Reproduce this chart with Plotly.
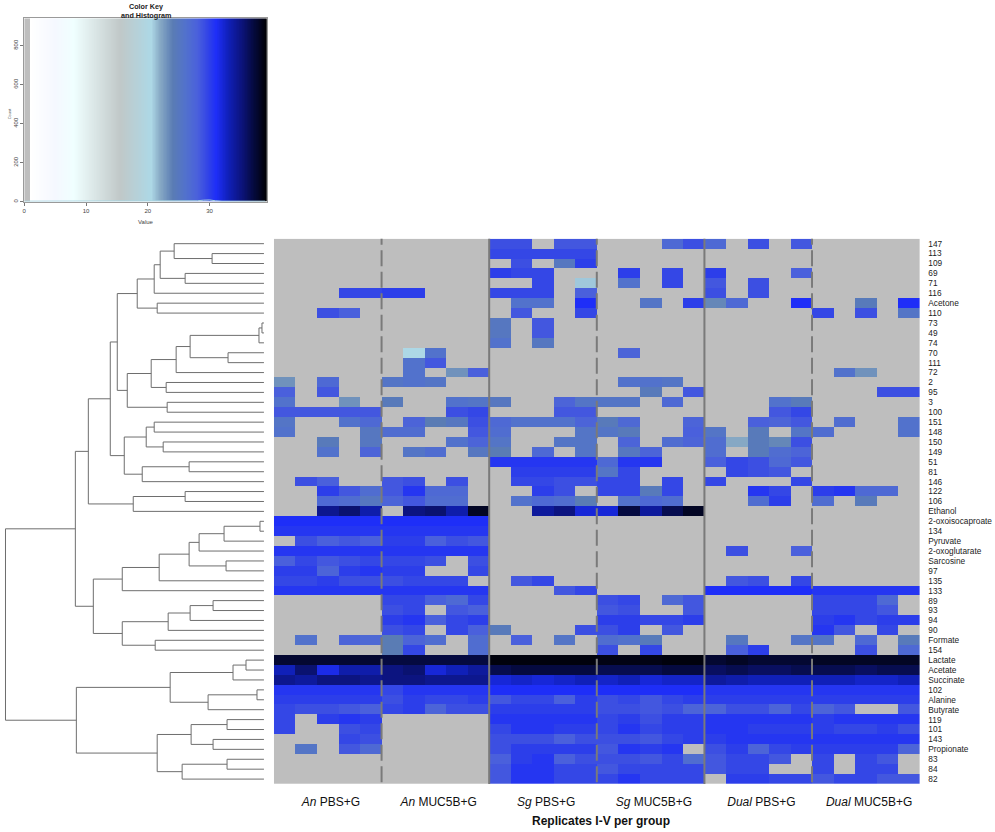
import numpy as np
import plotly.graph_objects as go

W, H = 995, 832

row_labels = ["147","113","109","69","71","116","Acetone","110","73","49","74","70","111","72","2","95","3","100",
              "151","148","150","149","51","81","146","122","106","Ethanol","2-oxoisocaproate","134","Pyruvate",
              "2-oxoglutarate","Sarcosine","97","135","133","89","93","94","90","Formate","154","Lactate","Acetate",
              "Succinate","102","Alanine","Butyrate","119","101","143","Propionate","83","84","82"]

group_labels = ["<i>An</i> PBS+G", "<i>An</i> MUC5B+G", "<i>Sg</i> PBS+G", "<i>Sg</i> MUC5B+G",
                "<i>Dual</i> PBS+G", "<i>Dual</i> MUC5B+G"]
replicates_per_group = 5
boundary_is_solid = [False, True, False, True, False]

# log2-like intensity per metabolite (rows) and replicate (columns); 0 = not detected
values = [
 [0,0,0,0,0, 0,0,0,0,0, 29,29,0,28.5,28.5, 0,0,0,27,29, 27,0,29,0,28.5, 0,0,0,0,0],
 [0,0,0,0,0, 0,0,0,0,0, 29.5,29.5,29.5,29.5,29.5, 0,0,0,0,0, 0,0,0,0,0, 0,0,0,0,0],
 [0,0,0,0,0, 0,0,0,0,0, 0,29,0,25,30, 0,0,0,0,0, 0,0,0,0,0, 0,0,0,0,0],
 [0,0,0,0,0, 0,0,0,0,0, 30,29.5,29.5,0,0, 0,30,0,29.5,0, 30,0,0,0,28, 0,0,0,0,0],
 [0,0,0,0,0, 0,0,0,0,0, 0,0,29.5,0,21, 0,26,0,29.5,0, 28.5,0,29,0,0, 0,0,0,0,0],
 [0,0,0,29.5,29.5, 30,30,0,0,0, 29.5,29.5,29.5,0,28, 0,0,0,0,0, 29,0,29,0,0, 0,0,0,0,0],
 [0,0,0,0,0, 0,0,0,0,0, 0,26,26,0,31, 0,0,25.5,0,30, 23.5,27,0,0,31, 0,0,24.5,0,31],
 [0,0,29,28,0, 0,0,0,0,0, 0,28.5,0,0,29.5, 0,0,0,0,0, 0,0,0,0,0, 29.5,0,29,0,25.5],
 [0,0,0,0,0, 0,0,0,0,0, 25,0,28.5,0,0, 0,0,0,0,0, 0,0,0,0,0, 0,0,0,0,0],
 [0,0,0,0,0, 0,0,0,0,0, 25,0,28.5,0,0, 0,0,0,0,0, 0,0,0,0,0, 0,0,0,0,0],
 [0,0,0,0,0, 0,0,0,0,0, 26,0,25,0,0, 0,0,0,0,0, 0,0,0,0,0, 0,0,0,0,0],
 [0,0,0,0,0, 0,20.5,26,0,0, 0,0,0,0,0, 0,27.5,0,0,0, 0,0,0,0,0, 0,0,0,0,0],
 [0,0,0,0,0, 0,26,28.5,0,0, 0,0,0,0,0, 0,0,0,0,0, 0,0,0,0,0, 0,0,0,0,0],
 [0,0,0,0,0, 0,26,0,23,28, 0,0,0,0,0, 0,0,0,0,0, 0,0,0,0,0, 0,26,23,0,0],
 [23,0,27,0,0, 25.5,26,25.5,0,0, 0,0,0,0,0, 0,26,26,25.5,0, 0,0,0,0,0, 0,0,0,0,0],
 [28,0,28.5,0,0, 0,0,0,0,0, 0,0,0,0,0, 0,0,24.5,0,28.5, 0,0,0,0,0, 0,0,0,29,29],
 [26,0,0,23,0, 24.5,0,0,26,25.5, 25,0,0,27.5,25.5, 25.5,25.5,0,27,0, 0,0,0,26,24.5, 0,0,0,0,0],
 [28.5,28.5,28.5,28.5,28.5, 0,0,0,29,29.5, 0,0,0,28.5,28.5, 0,0,0,0,0, 0,0,0,28.5,29.5, 0,0,0,0,0],
 [25.5,0,0,26,27, 0,27.5,24,25,29, 27,26,26,26,27.5, 24.5,27,0,0,27.5, 0,0,28,27.5,28.5, 0,26.5,0,0,26],
 [26,0,0,0,25, 26.5,26.5,0,0,28.5, 26.5,0,0,0,25.5, 25.5,24.5,0,0,28, 25.5,0,24.5,0,25.5, 26.5,0,0,0,26],
 [0,0,24.5,0,25, 0,0,0,26,27.5, 25.5,0,0,25.5,25.5, 0,27.5,0,26.5,27.5, 26.5,22,24.5,23.5,29, 0,0,0,0,0],
 [0,0,26,0,27.5, 0,25.5,26.5,0,25, 24,0,27,0,25.5, 0,25,27.5,0,0, 26.5,0,24.5,26.5,27.5, 0,0,0,0,0],
 [0,0,0,0,0, 0,0,0,0,0, 30.5,30.5,30.5,30.5,30.5, 27,30.5,30.5,0,0, 28,29.5,29,27,28.5, 0,0,0,0,0],
 [0,0,0,0,0, 0,0,0,0,0, 0,30,30,30,30, 25.5,29.5,0,0,0, 0,29.5,29,28.5,0, 0,0,0,0,0],
 [0,29,28,0,0, 28.5,29,0,29,0, 0,29.5,29.5,29,29, 29.5,29.5,0,29.5,0, 29.5,0,0,0,29.5, 0,0,0,0,0],
 [0,0,30,28.5,26.5, 28.5,30.5,27,27,0, 0,0,30,29,0, 29.5,29.5,24.5,29.5,0, 0,0,30.5,29.5,0, 30,30.5,27,27,0],
 [0,0,27,26.5,25, 27.5,28.5,26.5,26.5,0, 0,26,27,26.5,24, 0,26,27,26.5,0, 0,0,26.5,30,0, 26.5,0,24.5,0,0],
 [0,0,34.5,35.5,33.5, 0,35,35.5,33.5,38, 0,0,34,35,32, 32,37,34,36.5,38, 0,0,0,0,0, 0,0,0,0,0],
 [31,31,31,31,31, 31,31,31,31,31, 0,0,0,0,0, 0,0,0,0,0, 0,0,0,0,0, 0,0,0,0,0],
 [30.5,30.5,30.5,30.5,30.5, 30.5,30.5,30.5,30.5,30.5, 0,0,0,0,0, 0,0,0,0,0, 0,0,0,0,0, 0,0,0,0,0],
 [0,29,28,28.5,28, 30,30,28,29,28.5, 0,0,0,0,0, 0,0,0,0,0, 0,0,0,0,0, 0,0,0,0,0],
 [30.5,30.5,30.5,30.5,30.5, 30.5,30.5,30.5,30.5,30.5, 0,0,0,0,0, 0,0,0,0,0, 0,29,0,0,28, 0,0,0,0,0],
 [28,29.5,28.5,29,29.5, 29.5,29.5,29,0,29, 0,0,0,0,0, 0,0,0,0,0, 0,0,0,0,0, 0,0,0,0,0],
 [30,30,27.5,30,30.5, 30,30,0,0,29.5, 0,0,0,0,0, 0,0,0,0,0, 0,0,0,0,0, 0,0,0,0,0],
 [29.5,29.5,30,29,29, 29,29.5,29.5,29.5,0, 0,28.5,29.5,0,0, 0,0,0,0,0, 0,28.5,29,0,29.5, 0,0,0,0,0],
 [30.5,30.5,30.5,30.5,30.5, 30.5,30.5,30.5,30.5,30.5, 0,0,0,28.5,29.5, 0,0,0,0,0, 31,31,31,31,31, 30.5,30.5,30.5,30.5,30.5],
 [0,0,0,0,0, 29.5,29.5,28,27,29.5, 0,0,0,0,0, 29,29.5,0,27,28.5, 0,0,0,0,0, 29.5,29.5,29.5,27,0],
 [0,0,0,0,0, 29,29.5,0,28.5,28, 0,0,0,0,0, 28.5,29,0,0,28.5, 0,0,0,0,0, 29.5,29.5,29.5,28.5,0],
 [0,0,0,0,0, 30,30.5,28,29.5,30, 0,0,0,0,0, 30,30,29.5,29.5,30, 0,0,0,0,0, 30,30.5,29.5,30,30],
 [0,0,0,0,0, 29,29.5,0,29.5,28, 24.5,0,0,0,29, 29,30,0,28.5,0, 0,0,0,0,0, 30.5,28.5,0,29.5,0],
 [0,26,0,27.5,27, 24,27.5,26.5,0,26.5, 0,28,0,25.5,0, 26.5,26,24.5,0,0, 0,25,0,0,25.5, 25.5,0,27,0,24.5],
 [0,0,0,0,0, 24,29.5,0,0,26.5, 0,0,0,0,0, 29,0,29.5,0,0, 0,28,30,0,0, 0,0,29,0,27],
 [37.5,37.5,37.5,37.5,37.5, 37,37,37,37,37, 38.8,38.8,38.8,38.8,38.8, 38.5,38.5,38.5,38.8,38.8, 37.5,38,37.5,37.5,37.5, 38,38,38,38,38],
 [33,35.5,31.5,33.5,33.5, 35,35.5,32,33,34, 36.5,37,37,37,37, 36.5,36.5,36.5,37,37, 36,36.5,36,36,36.5, 36.5,36.5,36,36.5,36.5],
 [34.5,34,35,35,34.5, 35,35,34.5,34.5,34.5, 32,32.5,32,32.5,33, 32.5,33,32,32.5,32.5, 34,33.5,33,33,33, 33,33,32.5,32.5,33],
 [30.5,30.5,30.5,30.5,30.5, 29.5,30.5,30.5,30.5,30.5, 31,31,31,31,31, 31,31,31,31,31, 30.5,30.5,30.5,30.5,30.5, 30.5,30.5,30.5,30.5,30.5],
 [30,30,30,30,30, 29,30,29.5,29.5,30, 28.5,29.5,29.5,28,30, 29,29.5,28.5,29.5,30, 30,30,30,30,30, 30,30,30,30,30],
 [29.5,29,29,28.5,28, 29.5,30,27.5,29,29, 30,30,30,30,30, 29,29,28.5,29,27.5, 27.5,29,29,27.5,29.5, 27.5,28.5,0,0,28.5],
 [29.5,0,30,30.5,30, 0,0,0,0,0, 30.5,30.5,30.5,30.5,30.5, 29.5,30,29,30,30, 30.5,30.5,30.5,30.5,30.5, 30,30.5,30.5,30.5,30.5],
 [29.5,0,0,29,29.5, 0,0,0,0,0, 29.5,30.5,30.5,30,30, 29.5,30.5,29.5,30,30, 30.5,30.5,30,30,30, 30,29.5,29.5,30,29],
 [0,0,0,29.5,29, 0,0,0,0,0, 29,29,29,28,29, 29,29,28.5,29.5,30, 30,30.5,30.5,30.5,30.5, 30.5,30.5,30.5,30.5,30.5],
 [0,25.5,0,28.5,27, 0,0,0,0,0, 29,30,30,30,30, 28.5,30.5,30,30.5,0, 29,30,27.5,29.5,30, 30,30,30,30,27.5],
 [0,0,0,0,0, 0,0,0,0,0, 28,30,30.5,28,29, 29,29,28.5,29.5,26.5, 28.5,29.5,29.5,28.5,0, 29.5,0,29.5,28.5,0],
 [0,0,0,0,0, 0,0,0,0,0, 28.5,30.5,30.5,29.5,29.5, 28.5,29.5,29.5,29.5,29.5, 28.5,29.5,29.5,0,0, 29.5,0,29.5,29.5,0],
 [0,0,0,0,0, 0,0,0,0,0, 28.5,30.5,30.5,29.5,29.5, 29.5,30.5,29.5,29.5,29.5, 0,30,30,29.5,29.5, 28.5,29.5,29.5,28.5,28.5],
]

# dendrogram merges: (left, right, height); a string is a row label, an int an earlier merge
merges = [
 ("113","109",52),("147",0,90),("69","71",79),(1,2,104),(3,"116",110),("Acetone","110",107),(4,5,127),
 ("73","49",2),(7,"74",5),("70","111",36),(8,9,74),(10,"72",88),("2","95",98),(11,12,113),("3","100",97),
 (13,14,137),(6,15,147),("151","148",110),("150","149",101),(17,18,118),("51","81",75),(20,"146",122),
 (19,21,140),(16,22,154),("122","106",79),(24,"Ethanol",131),(23,25,176),("2-oxoisocaproate","134",4),
 (27,"Pyruvate",40),(28,"2-oxoglutarate",65),("Sarcosine","97",38),(29,30,75),(31,"135",105),(32,"133",142),
 ("89","93",51),(34,"94",74),(35,"90",96),("Formate","154",109),(36,37,142),(33,38,171),(26,39,189),
 ("Lactate","Acetate",18),(41,"Succinate",31),("102","Alanine",7),(43,"Butyrate",56),(42,44,94),
 ("119","101",37),("143","Propionate",51),(46,47,73),("83","84",37),(49,"82",82),(48,50,107),(45,51,188),
 (40,52,259),
]

# colour key: value -> colour stops
key_values = [0, 1, 1, 5, 8, 15.5, 20.5, 22, 24, 26, 28, 29, 30, 31, 33, 35, 37, 39.25]
key_colors = ["#BEBEBE", "#BEBEBE", "#FFFFFF", "#F5F8FF", "#F0FFFF", "#C0C8C8", "#ADD8E6", "#86A8C4", "#5A7CB4",
              "#5272CC", "#4A60DC", "#3C4FE2", "#2C3EEA", "#1E2EF8", "#1020B8", "#0C1480", "#050A40", "#000000"]
key_max = 39.25
key_top = 940
# histogram outline along the foot of the key (count per value bin)
hist_values = [0, 2, 5, 10, 15, 20, 24, 27, 28, 29, 30, 31, 32, 39]
hist_counts = [3, 3, 3, 3, 3, 3, 3, 3, 5, 8, 9, 5, 3, 3]

colorscale = [[v / key_max, c] for v, c in zip(key_values, key_colors)]
n_rows = len(row_labels)
n_cols = len(values[0])

fig = go.Figure()

# main heatmap
fig.add_trace(go.Heatmap(z=values, x=list(range(n_cols)), y=list(range(n_rows)), coloraxis="coloraxis",
                         xaxis="x", yaxis="y", hoverinfo="skip", xgap=0, ygap=0))

# group separators
for i, solid in enumerate(boundary_is_solid):
    b = (i + 1) * replicates_per_group - 0.5
    fig.add_trace(go.Scatter(x=[b, b], y=[-1.5, n_rows], mode="lines", xaxis="x", yaxis="y", hoverinfo="skip",
                             showlegend=False,
                             line=dict(color="#7A7A7A", width=2, dash="solid" if solid else "16px,5.5px")))

# dendrogram, laid out from the merge table
pos = {name: float(i) for i, name in enumerate(row_labels)}
hgt = {name: 0.0 for name in row_labels}
dx, dy = [], []
for k, (a, b, h) in enumerate(merges):
    ya, yb, ha, hb = pos[a], pos[b], hgt[a], hgt[b]
    dx += [ha, h, h, hb, None]
    dy += [ya, ya, yb, yb, None]
    pos[k] = (ya + yb) / 2
    hgt[k] = h
fig.add_trace(go.Scatter(x=dx, y=dy, mode="lines", xaxis="x2", yaxis="y2", hoverinfo="skip", showlegend=False,
                         line=dict(color="#6E6E6E", width=1)))

# colour key
edges = np.linspace(0, key_max, 400)
mids = (edges[:-1] + edges[1:]) / 2
fig.add_trace(go.Heatmap(z=[mids.tolist()], x=edges.tolist(), y=[0, key_top], coloraxis="coloraxis",
                         xaxis="x3", yaxis="y3", hoverinfo="skip"))
fig.add_trace(go.Scatter(x=hist_values, y=hist_counts, mode="lines", xaxis="x3", yaxis="y3", hoverinfo="skip",
                         showlegend=False, line=dict(color="#A8D4E0", width=1)))

def xdom(a, b): return [a / W, b / W]
def ydom(top, bottom): return [1 - bottom / H, 1 - top / H]

group_centers = [(i + 0.5) * replicates_per_group - 0.5 + 0.15 for i in range(len(group_labels))]
small = dict(family="Liberation Sans", size=6, color="#444444")

fig.update_layout(
    width=W, height=H, margin=dict(l=0, r=0, t=0, b=0), paper_bgcolor="white", plot_bgcolor="white",
    showlegend=False, font=dict(family="Liberation Sans", color="#222222"),
    coloraxis=dict(colorscale=colorscale, cmin=0, cmax=key_max, showscale=False),
    xaxis=dict(domain=xdom(272.5, 919.5), range=[-0.5, n_cols - 0.5], anchor="y", showgrid=False, zeroline=False,
               tickmode="array", tickvals=group_centers, ticktext=group_labels, ticks="outside", ticklen=7,
               tickcolor="rgba(0,0,0,0)", tickfont=dict(size=12, color="#111111", family="Liberation Sans")),
    yaxis=dict(domain=ydom(239, 785), range=[n_rows - 0.5, -0.5], anchor="x", side="right", showgrid=False,
               zeroline=False, tickmode="array", tickvals=list(range(n_rows)), ticktext=row_labels, ticks="outside",
               ticklen=6, tickcolor="rgba(0,0,0,0)", tickfont=dict(size=8.3, color="#222222", family="Liberation Sans")),
    xaxis2=dict(domain=xdom(0, 262.5), range=[262.5, 0], anchor="y2", visible=False),
    yaxis2=dict(domain=ydom(239, 785), range=[n_rows - 0.5, -0.5], anchor="x2", visible=False),
    xaxis3=dict(domain=xdom(22.3, 265.3), range=[0, key_max], anchor="y3", showgrid=False, zeroline=False,
                tickmode="array", tickvals=[0, 10, 20, 30], ticks="outside", ticklen=3, tickcolor="#777777",
                tickfont=small, showline=True, linecolor="#9A9A9A", linewidth=1, mirror=True),
    yaxis3=dict(domain=ydom(18.3, 202), range=[0, key_top], anchor="x3", showgrid=False, zeroline=False,
                tickmode="array", tickvals=[0, 200, 400, 600, 800], ticks="outside", ticklen=3, tickcolor="#777777",
                tickfont=small, tickangle=-90, showline=True, linecolor="#9A9A9A", linewidth=1, mirror=True),
    annotations=[
        dict(text="<b>Replicates I-V per group</b>", x=600 / W, y=1 - 822 / H, xref="paper", yref="paper",
             showarrow=False, font=dict(size=12, color="#111111"), xanchor="center", yanchor="middle"),
        dict(text="<b>Color Key</b>", x=144 / W, y=1 - 7 / H, xref="paper", yref="paper", showarrow=False,
             font=dict(size=7.2, color="#222222"), xanchor="center", yanchor="middle"),
        dict(text="<b>and Histogram</b>", x=144 / W, y=1 - 16 / H, xref="paper", yref="paper", showarrow=False,
             font=dict(size=7.2, color="#222222"), xanchor="center", yanchor="middle"),
        dict(text="Value", x=144 / W, y=1 - 222.5 / H, xref="paper", yref="paper", showarrow=False,
             font=small, xanchor="center", yanchor="middle"),
        dict(text="Count", x=7.5 / W, y=1 - 113 / H, xref="paper", yref="paper", showarrow=False, textangle=-90,
             font=dict(family="Liberation Sans", size=4, color="#555555"), xanchor="center", yanchor="middle"),
    ],
)

fig.write_html("out.html", config={"displayModeBar": False}, post_script="document.body.style.margin='0';")
